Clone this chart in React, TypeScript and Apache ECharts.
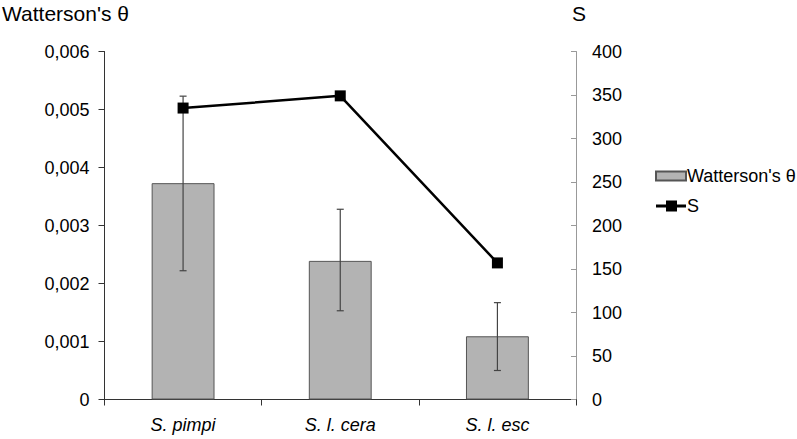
import React, { useEffect, useRef } from "react";
import * as echarts from "echarts";

const categories = ["S. pimpi", "S. l. cera", "S. l. esc"];
const thetaValues = [0.00373, 0.00239, 0.00109];
const thetaLow = [0.00222, 0.00153, 0.0005];
const thetaHigh = [0.00523, 0.00328, 0.00167];
const sValues = [335, 349, 157];
const leftTicks = [0, 0.001, 0.002, 0.003, 0.004, 0.005, 0.006];
const rightTicks = [0, 50, 100, 150, 200, 250, 300, 350, 400];

const FONT = "Liberation Sans, Arial, sans-serif";

export default function App() {
  const ref = useRef<HTMLDivElement>(null);
  useEffect(() => {
    if (!ref.current) return;
    const chart = echarts.init(ref.current, undefined, { renderer: "svg" });
    const errData = categories.map((c, i) => [i, thetaLow[i], thetaHigh[i]]);
    chart.setOption({
      animation: false,
      backgroundColor: "#ffffff",
      textStyle: { fontFamily: FONT },
      grid: { left: 104.5, right: 221, top: 51.5, bottom: 39.5, containLabel: false },
      legend: {
        orient: "vertical",
        left: 650,
        top: 162,
        itemWidth: 30,
        itemHeight: 11,
        itemGap: 12,
        textStyle: { fontSize: 18, color: "#000", fontFamily: FONT, padding: [0, 0, 0, -4] },
        data: [
          { name: "Watterson's θ", icon: "path://M0,0 L30,0 L30,9 L0,9 Z" },
          {
            name: "S",
            icon: "path://M0,4 L10,4 L10,0 L21,0 L21,4 L30,4 L30,7 L21,7 L21,11 L10,11 L10,7 L0,7 Z",
          },
        ],
      },
      graphic: [
        {
          type: "text",
          left: 2,
          top: 3,
          style: { text: "Watterson's θ", fontSize: 21, fill: "#000", fontFamily: FONT },
        },
        {
          type: "text",
          left: 572,
          top: 3,
          style: { text: "S", fontSize: 21, fill: "#000", fontFamily: FONT },
        },
      ],
      xAxis: {
        type: "category",
        data: categories,
        boundaryGap: true,
        axisLine: { lineStyle: { color: "#333", width: 1 } },
        axisTick: { show: true, length: 6, alignWithLabel: false, lineStyle: { color: "#333" } },
        axisLabel: { fontSize: 18, fontStyle: "italic", color: "#000", margin: 16, fontFamily: FONT },
      },
      yAxis: [
        {
          type: "value",
          min: 0,
          max: 0.006,
          interval: 0.001,
          position: "left",
          splitLine: { show: false },
          axisLine: { show: true, lineStyle: { color: "#333", width: 1 } },
          axisTick: { show: true, length: 6, lineStyle: { color: "#333" } },
          axisLabel: {
            fontSize: 18,
            color: "#000",
            margin: 15,
            fontFamily: FONT,
            formatter: (v: number) => {
              const idx = leftTicks.findIndex((t) => Math.abs(t - v) < 1e-9);
              const t = idx >= 0 ? leftTicks[idx] : v;
              return t === 0 ? "0" : t.toFixed(3).replace(".", ",");
            },
          },
        },
        {
          type: "value",
          min: 0,
          max: 400,
          interval: 50,
          position: "right",
          splitLine: { show: false },
          axisLine: { show: true, lineStyle: { color: "#999", width: 1 } },
          axisTick: { show: true, inside: true, length: 5, lineStyle: { color: "#999" } },
          axisLabel: {
            fontSize: 18,
            color: "#000",
            margin: 16,
            fontFamily: FONT,
            formatter: (v: number) => {
              const idx = rightTicks.indexOf(v);
              return String(idx >= 0 ? rightTicks[idx] : v);
            },
          },
        },
      ],
      series: [
        {
          name: "Watterson's θ",
          type: "bar",
          yAxisIndex: 0,
          data: thetaValues,
          barWidth: "40%",
          itemStyle: { color: "#b3b3b3", borderColor: "#555", borderWidth: 1 },
          z: 2,
        },
        {
          name: "errors",
          type: "custom",
          yAxisIndex: 0,
          data: errData,
          z: 3,
          renderItem: (params: any, api: any) => {
            const x = api.value(0);
            const lo = api.coord([x, api.value(1)]);
            const hi = api.coord([x, api.value(2)]);
            const hw = 3.5;
            const style = { stroke: "#444", lineWidth: 1.2 };
            return {
              type: "group",
              children: [
                { type: "line", shape: { x1: lo[0], y1: lo[1], x2: hi[0], y2: hi[1] }, style },
                { type: "line", shape: { x1: lo[0] - hw, y1: lo[1], x2: lo[0] + hw, y2: lo[1] }, style },
                { type: "line", shape: { x1: hi[0] - hw, y1: hi[1], x2: hi[0] + hw, y2: hi[1] }, style },
              ],
            };
          },
        },
        {
          name: "S",
          type: "line",
          yAxisIndex: 1,
          data: sValues,
          symbol: "rect",
          symbolSize: 11,
          lineStyle: { color: "#000", width: 2.5 },
          itemStyle: { color: "#000" },
          z: 4,
        },
      ],
    });
    return () => chart.dispose();
  }, []);
  return (
    <div
      ref={ref}
      style={{ position: "absolute", left: 0, top: 0, width: 797, height: 439 }}
    />
  );
}
